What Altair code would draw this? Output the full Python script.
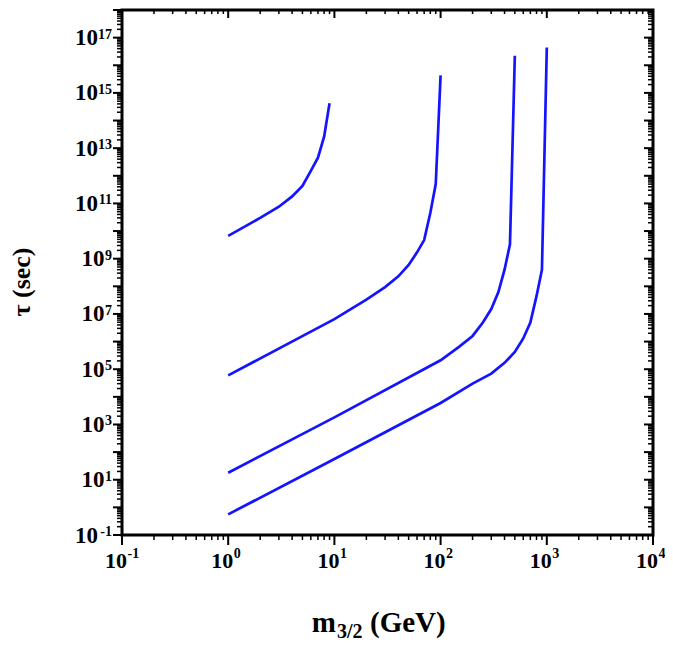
import altair as alt
import pandas as pd

# ---- data ----
a_x = [1, 2, 3, 4, 5, 6, 7, 8, 9]
a_y = [6.7e9, 3.0e10, 7.6e10, 1.8e11, 4.3e11, 1.5e12, 4.5e12, 2.6e13, 4.2e14]
b_x = [1, 10, 20, 30, 40, 50, 60, 70, 80, 90, 100]
b_y = [6.0e4, 6.5e6, 3.3e7, 9.4e7, 2.3e8, 5.9e8, 1.7e9, 4.7e9, 4.5e10, 5.0e11, 4.3e15]
c_x = [1, 10, 100, 150, 200, 250, 300, 350, 400, 450, 500]
c_y = [18, 1.8e3, 2.1e5, 6.6e5, 1.6e6, 4.9e6, 1.5e7, 6.2e7, 4.0e8, 3.3e9, 2.2e16]
d_x = [1, 10, 100, 200, 300, 400, 500, 600, 700, 800, 900, 1000]
d_y = [0.56, 56, 6.0e3, 3.0e4, 6.9e4, 1.7e5, 4.2e5, 1.3e6, 4.9e6, 4.4e7, 4.0e8, 4.4e16]

x_label_exps = [-1, 0, 1, 2, 3, 4]
y_label_exps = [-1, 1, 3, 5, 7, 9, 11, 13, 15, 17]
x_decades = [-1, 0, 1, 2, 3, 4]
y_decades = list(range(-1, 19))
minor_mult = [2, 3, 4, 5, 6, 7, 8, 9]

FONT = "Liberation Serif"
BLUE = "#1414ff"
W, H = 531, 525

curves = pd.concat([
    pd.DataFrame({"series": "a", "x": a_x, "y": a_y}),
    pd.DataFrame({"series": "b", "x": b_x, "y": b_y}),
    pd.DataFrame({"series": "c", "x": c_x, "y": c_y}),
    pd.DataFrame({"series": "d", "x": d_x, "y": d_y}),
], ignore_index=True)

xmaj = pd.DataFrame({"x": [10.0 ** d for d in x_decades]})
xmin = pd.DataFrame({"x": [m * 10.0 ** d for d in x_decades[:-1] for m in minor_mult]})
ymaj = pd.DataFrame({"y": [10.0 ** d for d in y_decades]})
ymin = pd.DataFrame({"y": [m * 10.0 ** d for d in y_decades[:-1] for m in minor_mult]})
xlab = pd.DataFrame({"x": [10.0 ** e for e in x_label_exps], "exp": [str(e) for e in x_label_exps]})
ylab = pd.DataFrame({"y": [10.0 ** e for e in y_label_exps], "exp": [str(e) for e in y_label_exps]})

xs = alt.Scale(type="log", domain=[0.1, 1e4], nice=False)
ys = alt.Scale(type="log", domain=[0.1, 1e18], nice=False)


def X():
    return alt.X("x:Q", scale=xs, axis=None)


def Y():
    return alt.Y("y:Q", scale=ys, axis=None)


lines = alt.Chart(curves).mark_line(color=BLUE, strokeWidth=2.7).encode(
    X(), Y(), detail="series:N")

rule_major = dict(color="black", strokeWidth=2)
rule_minor = dict(color="black", strokeWidth=1.5)

bot_maj = alt.Chart(xmaj).mark_rule(**rule_major).encode(X(), y=alt.value(H), y2=alt.value(H + 10))
bot_min = alt.Chart(xmin).mark_rule(**rule_minor).encode(X(), y=alt.value(H), y2=alt.value(H + 5))
top_maj = alt.Chart(xmaj).mark_rule(**rule_major).encode(X(), y=alt.value(0), y2=alt.value(8))
top_min = alt.Chart(xmin).mark_rule(**rule_minor).encode(X(), y=alt.value(0), y2=alt.value(4))
left_maj = alt.Chart(ymaj).mark_rule(**rule_major).encode(Y(), x=alt.value(0), x2=alt.value(-9))
left_min = alt.Chart(ymin).mark_rule(**rule_minor).encode(Y(), x=alt.value(0), x2=alt.value(-5))
right_maj = alt.Chart(ymaj).mark_rule(**rule_major).encode(Y(), x=alt.value(W), x2=alt.value(W - 9))
right_min = alt.Chart(ymin).mark_rule(**rule_minor).encode(Y(), x=alt.value(W), x2=alt.value(W - 5))

txt = dict(font=FONT, fontWeight="bold", color="black")

xlab_base = alt.Chart(xlab).mark_text(align="right", baseline="alphabetic", dx=5, fontSize=22, **txt).encode(
    X(), y=alt.value(H + 33), text=alt.value("10"))
xlab_exp = alt.Chart(xlab).mark_text(align="left", baseline="alphabetic", dx=5.5, fontSize=14, **txt).encode(
    X(), y=alt.value(H + 23), text="exp:N")

ylab_exp = alt.Chart(ylab).mark_text(align="right", baseline="alphabetic", dy=1, fontSize=14, **txt).encode(
    Y(), x=alt.value(-10), text="exp:N")
ylab_base2 = alt.Chart(ylab).transform_filter("length(datum.exp) == 2").mark_text(
    align="right", baseline="alphabetic", dy=7.5, fontSize=23, **txt).encode(
    Y(), x=alt.value(-24), text=alt.value("10"))
ylab_base1 = alt.Chart(ylab).transform_filter("length(datum.exp) == 1").mark_text(
    align="right", baseline="alphabetic", dy=7.5, fontSize=23, **txt).encode(
    Y(), x=alt.value(-17.5), text=alt.value("10"))

ytitle = alt.Chart(xlab).transform_filter("datum.exp == '0'").mark_text(
    angle=270, align="center", baseline="middle", fontSize=26, **txt).encode(
    x=alt.value(-100), y=alt.value(272), text=alt.value("τ (sec)"))
xt_m = alt.Chart(xlab).transform_filter("datum.exp == '0'").mark_text(
    align="right", baseline="alphabetic", fontSize=29, **txt).encode(
    x=alt.value(214), y=alt.value(622), text=alt.value("m"))
xt_sub = alt.Chart(xlab).transform_filter("datum.exp == '0'").mark_text(
    align="left", baseline="alphabetic", fontSize=20, **txt).encode(
    x=alt.value(215), y=alt.value(628), text=alt.value("3/2"))
xt_rest = alt.Chart(xlab).transform_filter("datum.exp == '0'").mark_text(
    align="left", baseline="alphabetic", fontSize=29, **txt).encode(
    x=alt.value(248), y=alt.value(622), text=alt.value("(GeV)"))

chart = alt.layer(
    lines, bot_maj, bot_min, top_maj, top_min, left_maj, left_min, right_maj, right_min,
    xlab_base, xlab_exp, ylab_exp, ylab_base2, ylab_base1, ytitle, xt_m, xt_sub, xt_rest,
).properties(
    width=W, height=H,
    padding={"left": 114, "top": 2, "right": 12, "bottom": 108},
    autosize=alt.AutoSizeParams(type="none"),
    background="white",
).configure_view(stroke="black", strokeWidth=3)

chart.save("out.html", embed_options={"renderer": "svg", "actions": False})
